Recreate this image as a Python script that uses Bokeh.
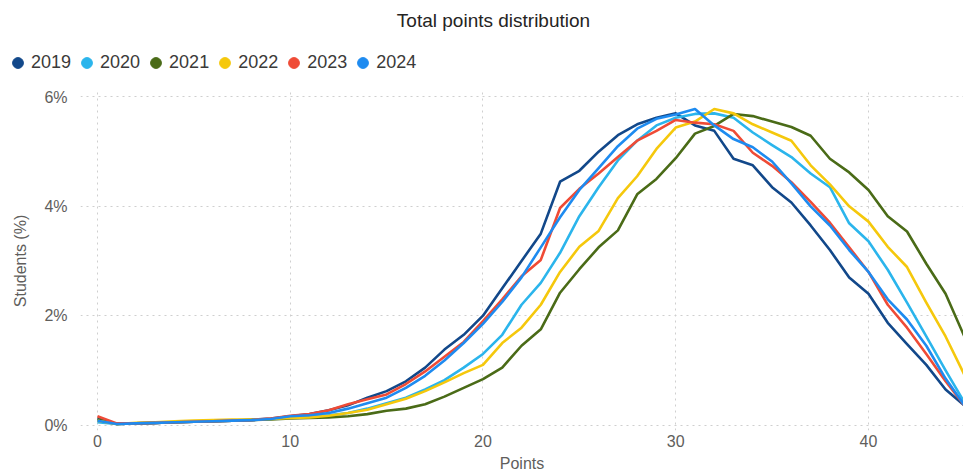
from bokeh.plotting import figure
from bokeh.layouts import column
from bokeh.models import ColumnDataSource, Legend, LegendItem, Range1d, FixedTicker, PrintfTickFormatter, Label
from bokeh.embed import file_html
from bokeh.resources import INLINE

points = list(range(0, 46))
years = ["2019", "2020", "2021", "2022", "2023", "2024"]
colors = ["#12488A", "#2BB5EC", "#4A6B17", "#F5C80C", "#EF4B36", "#1E8BF0"]

s2019 = [0.12, 0.02, 0.03, 0.04, 0.05, 0.06, 0.07, 0.08, 0.10, 0.12,
         0.16, 0.20, 0.27, 0.36, 0.50, 0.62, 0.80, 1.05, 1.38, 1.65,
         2.00, 2.50, 3.00, 3.50, 4.45, 4.65, 5.00, 5.30, 5.50, 5.62,
         5.70, 5.48, 5.38, 4.87, 4.75, 4.35, 4.07, 3.65, 3.20, 2.70,
         2.40, 1.87, 1.48, 1.10, 0.65, 0.35]
s2020 = [0.05, 0.02, 0.03, 0.04, 0.05, 0.06, 0.07, 0.08, 0.09, 0.11,
         0.14, 0.16, 0.18, 0.22, 0.30, 0.40, 0.50, 0.65, 0.82, 1.05,
         1.30, 1.65, 2.20, 2.60, 3.15, 3.82, 4.35, 4.84, 5.20, 5.48,
         5.62, 5.69, 5.70, 5.62, 5.35, 5.12, 4.90, 4.60, 4.35, 3.69,
         3.36, 2.84, 2.24, 1.62, 1.00, 0.40]
s2021 = [0.10, 0.02, 0.03, 0.04, 0.05, 0.06, 0.07, 0.08, 0.09, 0.10,
         0.12, 0.13, 0.14, 0.16, 0.20, 0.26, 0.30, 0.38, 0.52, 0.68,
         0.84, 1.05, 1.45, 1.75, 2.42, 2.85, 3.25, 3.56, 4.22, 4.50,
         4.88, 5.33, 5.47, 5.69, 5.65, 5.55, 5.45, 5.29, 4.87, 4.62,
         4.30, 3.82, 3.54, 2.95, 2.40, 1.60]
s2022 = [0.08, 0.02, 0.04, 0.05, 0.07, 0.08, 0.09, 0.10, 0.10, 0.11,
         0.13, 0.14, 0.17, 0.22, 0.28, 0.38, 0.48, 0.62, 0.78, 0.95,
         1.10, 1.50, 1.78, 2.20, 2.80, 3.26, 3.55, 4.15, 4.55, 5.05,
         5.44, 5.55, 5.78, 5.70, 5.50, 5.35, 5.20, 4.75, 4.40, 4.00,
         3.72, 3.26, 2.89, 2.24, 1.62, 0.90]
s2023 = [0.16, 0.03, 0.03, 0.04, 0.05, 0.06, 0.07, 0.08, 0.09, 0.12,
         0.17, 0.20, 0.27, 0.38, 0.47, 0.56, 0.75, 0.98, 1.25, 1.52,
         1.90, 2.30, 2.72, 3.02, 3.97, 4.32, 4.60, 4.90, 5.20, 5.38,
         5.58, 5.53, 5.50, 5.38, 4.98, 4.74, 4.44, 4.08, 3.70, 3.25,
         2.80, 2.20, 1.78, 1.30, 0.80, 0.35]
s2024 = [0.08, 0.02, 0.03, 0.04, 0.05, 0.06, 0.07, 0.08, 0.09, 0.11,
         0.16, 0.18, 0.22, 0.30, 0.40, 0.50, 0.68, 0.90, 1.18, 1.50,
         1.85, 2.25, 2.70, 3.25, 3.80, 4.30, 4.70, 5.10, 5.42, 5.60,
         5.68, 5.78, 5.48, 5.23, 5.08, 4.82, 4.42, 4.00, 3.65, 3.20,
         2.80, 2.30, 1.93, 1.45, 0.85, 0.35]
series = [s2019, s2020, s2021, s2022, s2023, s2024]

x_ticks = [0, 10, 20, 30, 40]
y_ticks = [0, 2, 4, 6]

TEXT = "#605E5C"
FONT = "Liberation Sans"
W = 963

# ---- header: title + legend ----
head = figure(width=W, height=88, output_backend="svg", toolbar_location=None,
              x_range=Range1d(0, 1), y_range=Range1d(100, 101),
              x_axis_type=None, y_axis_type=None,
              min_border_left=0, min_border_right=0, min_border_top=0, min_border_bottom=0)
head.outline_line_color = None
head.border_fill_color = "white"
head.background_fill_color = "white"

head.add_layout(Label(x=493, y=68, x_units="screen", y_units="screen",
                      text="Total points distribution", text_align="center",
                      text_baseline="middle", text_font=FONT, text_font_size="19px",
                      text_color="#252423"))

items = []
for yr, col, vals in zip(years, colors, series):
    src = ColumnDataSource(dict(x=points, y=vals))
    r = head.scatter("x", "y", source=src, size=12, fill_color=col, line_color=col)
    items.append(LegendItem(label=yr, renderers=[r]))

legend = Legend(items=items, orientation="horizontal", location=(4, 12),
                label_text_font=FONT, label_text_font_size="18px", label_text_color="#3B3A39",
                glyph_width=27, glyph_height=27, label_standoff=0, spacing=2,
                padding=0, margin=0, border_line_color=None, background_fill_alpha=0,
                label_height=27)
head.add_layout(legend, "center")

# ---- main chart ----
p = figure(width=W, height=386, output_backend="svg", toolbar_location=None,
           x_range=Range1d(-0.88, 44.93), y_range=Range1d(-0.1, 6.1),
           min_border_left=80, min_border_right=0, min_border_top=3, min_border_bottom=30)
p.outline_line_color = None
p.background_fill_color = "white"
p.border_fill_color = "white"

for fig in (head, p):
    try:
        fig.frame_align = False
    except Exception:
        pass

for yr, col, vals in zip(years, colors, series):
    src = ColumnDataSource(dict(x=points, y=vals))
    p.line("x", "y", source=src, line_color=col, line_width=2.6, line_join="round")

for ax in (p.xaxis[0], p.yaxis[0]):
    ax.axis_line_color = None
    ax.major_tick_line_color = None
    ax.minor_tick_line_color = None
    ax.major_label_text_font = FONT
    ax.major_label_text_font_size = "16px"
    ax.major_label_text_color = TEXT
    ax.axis_label_text_font = FONT
    ax.axis_label_text_font_size = "16px"
    ax.axis_label_text_font_style = "normal"
    ax.axis_label_text_color = TEXT

p.xaxis.ticker = FixedTicker(ticks=x_ticks)
p.yaxis.ticker = FixedTicker(ticks=y_ticks)
p.yaxis.formatter = PrintfTickFormatter(format="%d%%")
p.xaxis.axis_label = "Points"
p.yaxis.axis_label = "Students (%)"
p.xaxis.major_label_standoff = -2
p.xaxis.axis_label_standoff = 5
p.yaxis.major_label_standoff = 7
p.yaxis.axis_label_standoff = 12

for g in (p.xgrid[0], p.ygrid[0]):
    g.grid_line_color = "#CFCFCF"
    g.grid_line_dash = "2 4"
    g.grid_line_width = 1
p.xgrid.ticker = FixedTicker(ticks=x_ticks)
p.ygrid.ticker = FixedTicker(ticks=y_ticks)
p.xgrid[0].bounds = (0, 6)

layout = column(head, p, spacing=0)
open("out.html", "w").write(file_html(layout, INLINE))
